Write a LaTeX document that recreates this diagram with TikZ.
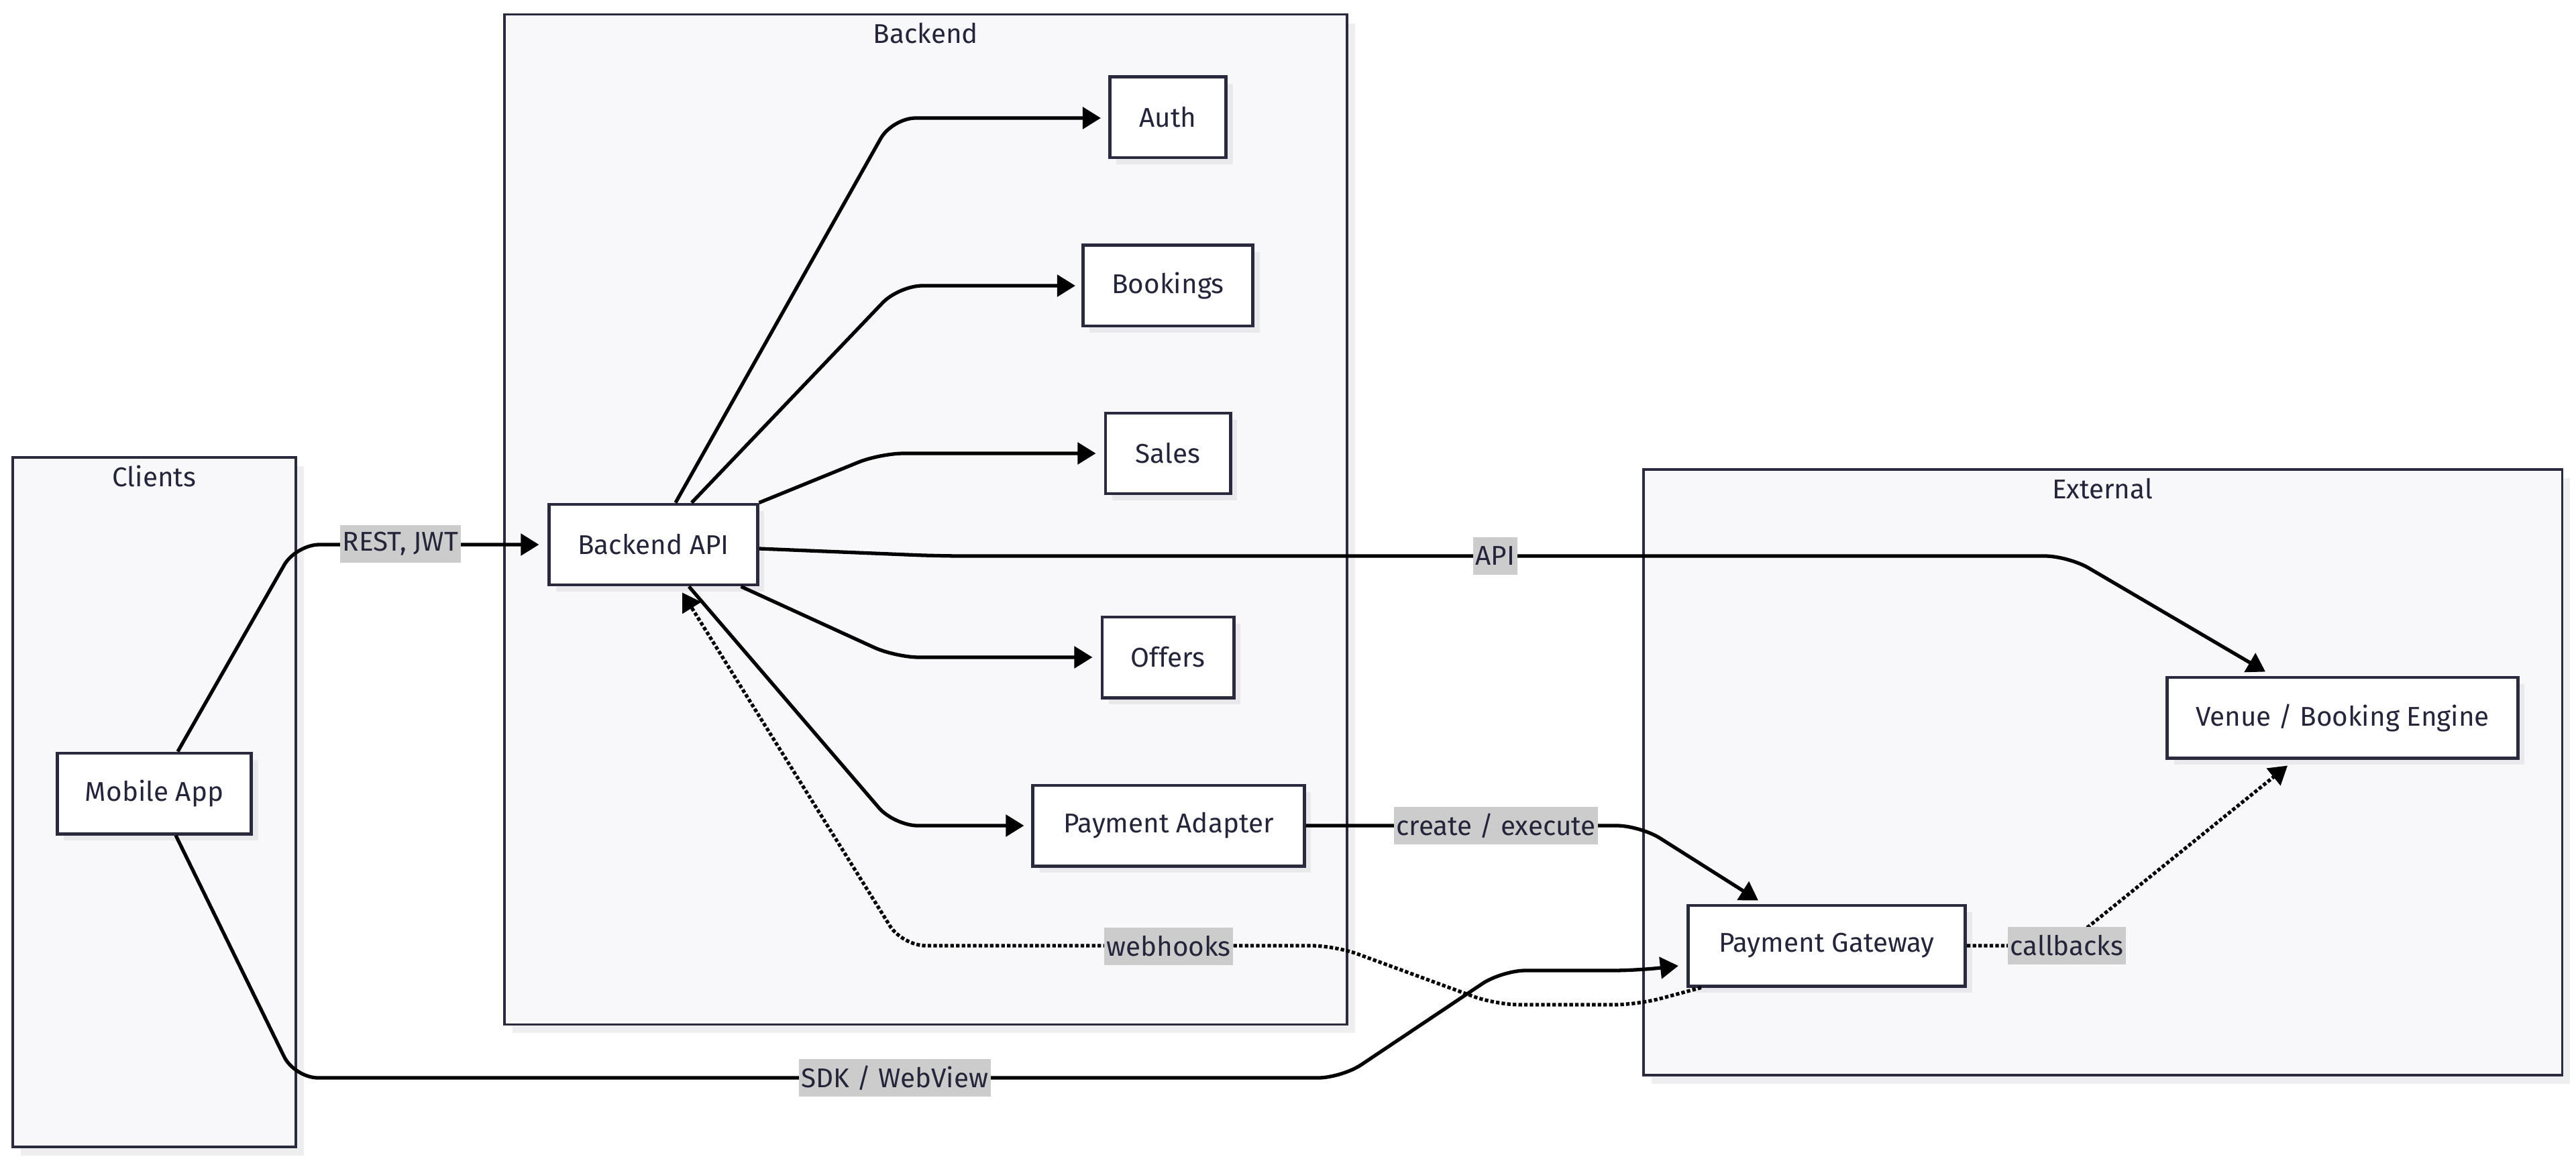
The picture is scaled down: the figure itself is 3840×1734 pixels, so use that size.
\documentclass[tikz,border=0pt]{standalone}
\usepackage{fontspec}
\setmainfont{Fira Sans}
\usetikzlibrary{arrows.meta,calc,shadows}
\definecolor{nodeborder}{RGB}{42,42,62}
\definecolor{textc}{RGB}{36,36,58}
\definecolor{clfill}{RGB}{248,248,250}
\definecolor{nshadow}{RGB}{232,232,237}
\definecolor{cshadow}{RGB}{238,238,240}
\definecolor{lblgray}{RGB}{204,204,204}
\begin{document}
\begin{tikzpicture}[x=0.01cm,y=-0.01cm,
  txt/.style={text=textc,font=\fontsize{11.5}{14}\selectfont},
  box/.style={txt,draw=nodeborder,line width=1.4pt,fill=white,minimum height=1.2cm,inner sep=0pt,
    drop shadow={shadow xshift=0.1cm,shadow yshift=-0.1cm,fill=nshadow,opacity=1}},
  cluster/.style={draw=nodeborder,line width=1.1pt,fill=clfill,inner sep=0pt,
    drop shadow={shadow xshift=0.12cm,shadow yshift=-0.13cm,fill=cshadow,opacity=1}},
  title/.style={txt,inner sep=0pt},
  edge/.style={line width=1.5pt,black,rounded corners=0.35cm,-{Triangle[length=0.27cm,width=0.32cm]}},
  dotedge/.style={edge,dash pattern=on 1.5pt off 0.9pt},
  elabel/.style={txt,fill=lblgray,inner xsep=1pt,inner ysep=0pt,minimum height=0.55cm}
]
\useasboundingbox (0,0) rectangle (3840,1734);

% clusters
\node[cluster,minimum width=4.22cm,minimum height=10.28cm] (clients) at (230,1196) {};
\node[cluster,minimum width=12.56cm,minimum height=15.05cm] (backend) at (1380,774.5) {};
\node[cluster,minimum width=13.69cm,minimum height=9.03cm] (external) at (3134.5,1151.5) {};
\node[title] (tclients) at (230,710) {Clients};
\node[title] (tbackend) at (1380,50) {Backend};
\node[title] (texternal) at (3134,729) {External};

% nodes
\node[box,minimum width=2.89cm] (mob) at (230,1183) {Mobile App};
\node[box,minimum width=3.10cm] (bapi) at (974,812) {Backend API};
\node[box,minimum width=1.73cm] (auth) at (1741,175) {Auth};
\node[box,minimum width=2.53cm] (book) at (1741,426) {Bookings};
\node[box,minimum width=1.86cm] (sales) at (1741,676) {Sales};
\node[box,minimum width=1.96cm] (offers) at (1741,980) {Offers};
\node[box,minimum width=4.04cm] (padapt) at (1742,1231) {Payment Adapter};
\node[box,minimum width=4.13cm] (pgw) at (2723,1410) {Payment Gateway};
\node[box,minimum width=5.22cm] (venue) at (3492,1070) {Venue / Booking Engine};

% edges
\draw[edge] ($(mob.north)+(35,0)$) -- (441,812) -- ($(bapi.west)+(-13,0)$);
\draw[edge] ($(mob.south)+(32,0)$) -- (439,1607) -- (2000,1607) -- (2239,1447) -- (2440,1447) -- ($(pgw.west)+(-12,30)$);
\draw[edge] ($(bapi.north)+(33,0)$) -- (1330,176) -- ($(auth.west)+(-11,1)$);
\draw[edge] ($(bapi.north)+(57,0)$) -- (1340,426) -- ($(book.west)+(-9,0)$);
\draw[edge] (bapi.north east) -- (1312,676) -- ($(sales.west)+(-12,0)$);
\draw[edge] ($(bapi.south east)+(-27,0)$) -- (1335,980) -- ($(offers.west)+(-12,0)$);
\draw[edge] ($(bapi.south)+(53,0)$) -- (1333,1231) -- ($(padapt.west)+(-11,0)$);
\draw[edge] ($(bapi.east)+(0,6)$) -- (1400,829) -- (3083,829) -- ($(venue.north)+(-115,-6)$);
\draw[edge] (padapt.east) -- (2445,1231) -- ($(pgw.north)+(-102,-5)$);
\draw[dotedge] ($(pgw.south west)+(22,0)$) -- (2441,1498) -- (2230,1498) -- (1990,1410) -- (1345,1410) -- ($(bapi.south)+(43,9)$);
\draw[dotedge] (pgw.east) -- (3078,1410) -- ($(venue.south)+(-82,9)$);

% edge labels
\node[elabel] (lrest) at (597,811) {REST, JWT};
\node[elabel] (lsdk) at (1334,1607) {SDK / WebView};
\node[elabel] (lapi) at (2229,829) {API};
\node[elabel] (lcreate) at (2230,1231) {create / execute};
\node[elabel] (lweb) at (1742,1411) {webhooks};
\node[elabel] (lcall) at (3081,1410) {callbacks};
\end{tikzpicture}
\end{document}
